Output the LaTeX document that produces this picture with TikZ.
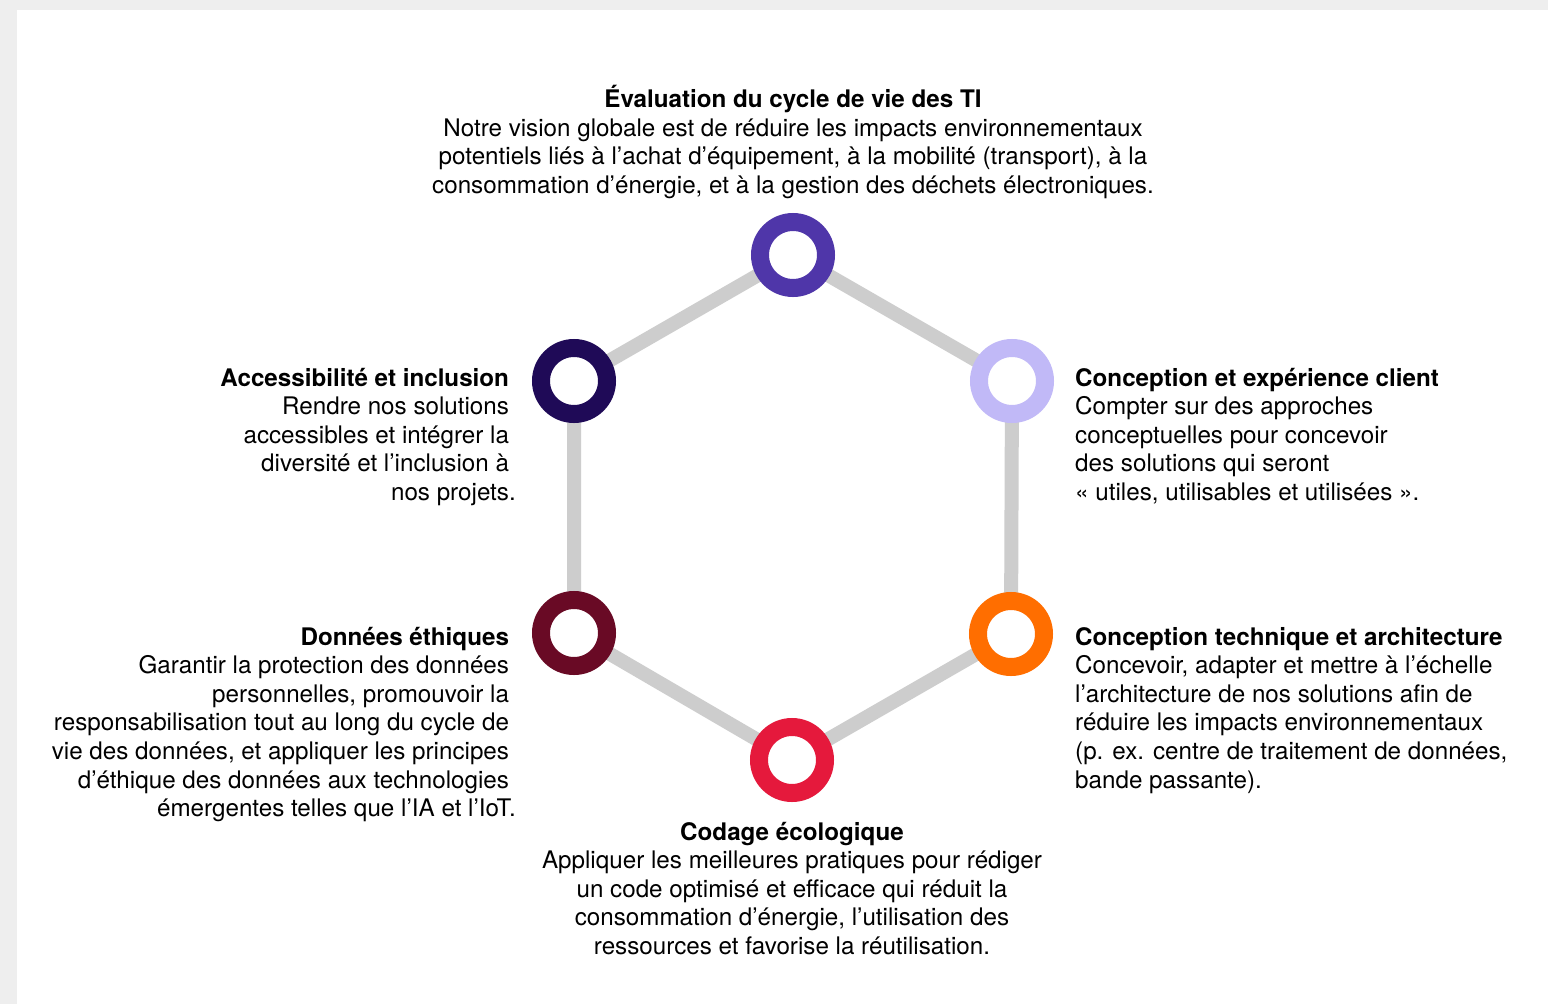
\documentclass[tikz,border=0pt]{standalone}
\usepackage{fontspec}
\setmainfont{TeX Gyre Heros}
\usetikzlibrary{positioning}

\definecolor{evcol}{HTML}{4F36A9}
\definecolor{accol}{HTML}{1F0A57}
\definecolor{cecol}{HTML}{C1B9F7}
\definecolor{decol}{HTML}{690A25}
\definecolor{ctcol}{HTML}{FF6E00}
\definecolor{cocol}{HTML}{E5193C}
\definecolor{linkgray}{HTML}{CDCDCD}
\definecolor{pagegray}{HTML}{EEEEEE}

\newcommand\wrapgap{\rule{.28em}{0pt}}

\pgfdeclarelayer{background}
\pgfsetlayers{background,main}

\tikzset{
	ring/.style={circle, draw=#1, fill=white, line width=18pt, minimum size=66pt, inner sep=0pt},
	link/.style={draw=linkgray, line width=14pt},
	blurb/.style={inner sep=0pt, font=\fontsize{24.2}{28.6}\selectfont}
}

\begin{document}
\begin{tikzpicture}[x=1pt,y=-1pt]
	\useasboundingbox (0,0) rectangle (1548,1004);
	\node (ev) [ring=evcol] at (793,255) {};
	\node (ac) [ring=accol] at (574,381) {};
	\node (ce) [ring=cecol] at (1012,381) {};
	\node (de) [ring=decol] at (574,633) {};
	\node (ct) [ring=ctcol] at (1011,634) {};
	\node (co) [ring=cocol] at (792,760) {};
	\begin{pgfonlayer}{background}
	\fill[pagegray] (0,0) rectangle (1548,1004);
	\fill[white] (17,10) rectangle (1548,1004);
	\draw[link] (ev.center) -- (ce.center) -- (ct.center) -- (co.center) -- (de.center) -- (ac.center) -- (ev.center);
	\end{pgfonlayer}
	% texts (base anchor = last line)
	\node (evtext) [blurb, align=center, anchor=base] at (793,193.3) {\textbf{Évaluation du cycle de vie des TI}\\
		Notre vision globale est de réduire les impacts environnementaux\\
		potentiels liés à l’achat d’équipement, à la mobilité (transport), à la\\
		consommation d’énergie, et à la gestion des déchets électroniques.};
	\node (actext) [blurb, align=right, anchor=base east] at (516,500.4) {\textbf{Accessibilité et inclusion}\wrapgap\\
		Rendre nos solutions\wrapgap\\
		accessibles et intégrer la\wrapgap\\
		diversité et l’inclusion à\wrapgap\\
		nos projets.};
	\node (cetext) [blurb, align=left, anchor=base west] at (1075,500.4) {\textbf{Conception et expérience client}\\
		Compter sur des approches\\
		conceptuelles pour concevoir\\
		des solutions qui seront\\
		« utiles, utilisables et utilisées ».};
	\node (detext) [blurb, align=right, anchor=base east] at (516,816.6) {\textbf{Données éthiques}\wrapgap\\
		Garantir la protection des données\wrapgap\\
		personnelles, promouvoir la\wrapgap\\
		responsabilisation tout au long du cycle de\wrapgap\\
		vie des données, et appliquer les principes\wrapgap\\
		d’éthique des données aux technologies\wrapgap\\
		émergentes telles que l’IA et l’IoT.};
	\node (cttext) [blurb, align=left, anchor=base west] at (1075,788) {\textbf{Conception technique et architecture}\\
		Concevoir, adapter et mettre à l’échelle\\
		l’architecture de nos solutions afin de\\
		réduire les impacts environnementaux\\
		(p. ex. centre de traitement de données,\\
		bande passante).};
	\node (cotext) [blurb, align=center, anchor=base] at (792,954.4) {\textbf{Codage écologique}\\
		Appliquer les meilleures pratiques pour rédiger\\
		un code optimisé et efficace qui réduit la\\
		consommation d’énergie, l’utilisation des\\
		ressources et favorise la réutilisation.};
\end{tikzpicture}
\end{document}
